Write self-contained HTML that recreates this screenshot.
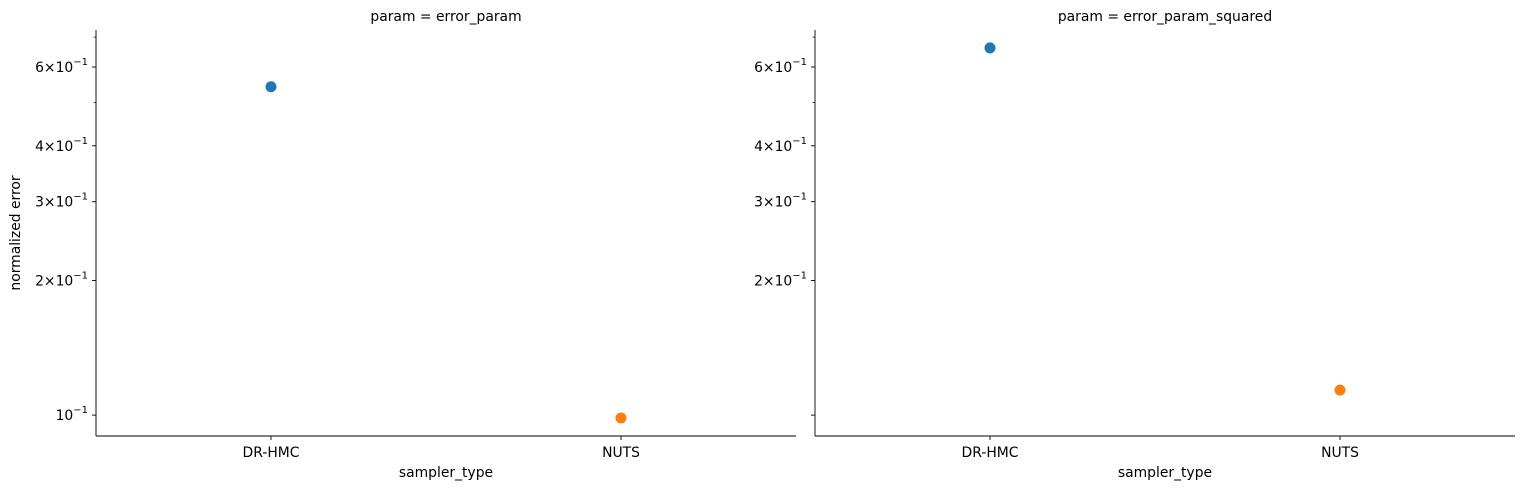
<!DOCTYPE html>
<html><head><meta charset="utf-8"><style>
body{margin:0;background:#fff;}
svg text{font-family:"DejaVu Sans","Liberation Sans",sans-serif;fill:#000;}
</style></head><body>
<svg id="chart" width="1524" height="490" xmlns="http://www.w3.org/2000/svg"></svg>
<script>
const categories = ["DR-HMC","NUTS"];
const panelTitles = ["param = error_param","param = error_param_squared"];
const seriesLeft = [0.542, 0.0985];
const seriesRight = [0.662, 0.1137];
const majorTicks = [0.2, 0.3, 0.4, 0.6];
const majorMant = ["2","3","4","6"];
const minorTicks = [0.5, 0.7];
const colors = ["#1f77b4","#ff7f0e"];
const yMin = 0.0898, yMax = 0.726;
const NS = "http://www.w3.org/2000/svg";
const FS = 13.9;
const svg = document.getElementById('chart');
function mk(tag, attrs, parent){const e=document.createElementNS(NS,tag);for(const k in attrs)e.setAttribute(k,attrs[k]);(parent||svg).appendChild(e);return e;}
const plotTop=30, plotBottom=436;
function yScale(v){return plotBottom-(Math.log10(v)-Math.log10(yMin))/(Math.log10(yMax)-Math.log10(yMin))*(plotBottom-plotTop);}
const panels=[{x0:96,x1:796,data:seriesLeft,label1:true},{x0:815,x1:1515,data:seriesRight,label1:false}];
panels.forEach((p,pi)=>{
  const g=mk('g',{});
  
  
  const w=p.x1-p.x0;
  const xScale=i=>p.x0+w*(0.25+0.5*i);
  const t=mk('text',{x:(p.x0+p.x1)/2,y:21,'text-anchor':'middle','font-size':FS},g);t.textContent=panelTitles[pi];
  
  
  const ya=mk('line',{x1:p.x0,y1:plotTop,x2:p.x0,y2:plotBottom,stroke:'#000','stroke-width':0.9},g);
  
  
  const xa=mk('line',{x1:p.x0,y1:plotBottom,x2:p.x1,y2:plotBottom,stroke:'#000','stroke-width':0.9},g);
  
  
  majorTicks.forEach((v,i)=>{
    const y=yScale(v);
    mk('line',{x1:p.x0-4,y1:y,x2:p.x0,y2:y,stroke:'#000','stroke-width':0.9},g);
    const tx=mk('text',{x:p.x0-8,y:y+5,'text-anchor':'end','font-size':FS},g);
    
    
    tx.innerHTML=majorMant[i]+'\u00d710<tspan dy="-7" font-size="10">\u22121</tspan>';
  });
  minorTicks.forEach(v=>{const y=yScale(v);mk('line',{x1:p.x0-2.5,y1:y,x2:p.x0,y2:y,stroke:'#000','stroke-width':0.7},g);});
  const y1=yScale(0.1);
  mk('line',{x1:p.x0-4,y1:y1,x2:p.x0,y2:y1,stroke:'#000','stroke-width':0.9},g);
  if(p.label1){const tx=mk('text',{x:p.x0-8,y:y1+5,'text-anchor':'end','font-size':FS},g);
    
    
    tx.innerHTML='10<tspan dy="-7" font-size="10">\u22121</tspan>';}
  categories.forEach((c,i)=>{
    const x=xScale(i);
    mk('line',{x1:x,y1:plotBottom,x2:x,y2:plotBottom+4,stroke:'#000','stroke-width':0.9},g);
    const tx=mk('text',{x:x,y:plotBottom+21,'text-anchor':'middle','font-size':FS},g);tx.textContent=c;
    
    
    const pt=mk('circle',{cx:x,cy:yScale(p.data[i]),r:5.5,fill:colors[i]},g);
    
    
  });
  const xl=mk('text',{x:(p.x0+p.x1)/2,y:477,'text-anchor':'middle','font-size':FS},g);xl.textContent='sampler_type';
  
  
});
const yt=mk('text',{x:0,y:0,'text-anchor':'middle','font-size':FS,transform:'translate(20,233) rotate(-90)'});
yt.textContent='normalized error';


</script>
</body></html>
